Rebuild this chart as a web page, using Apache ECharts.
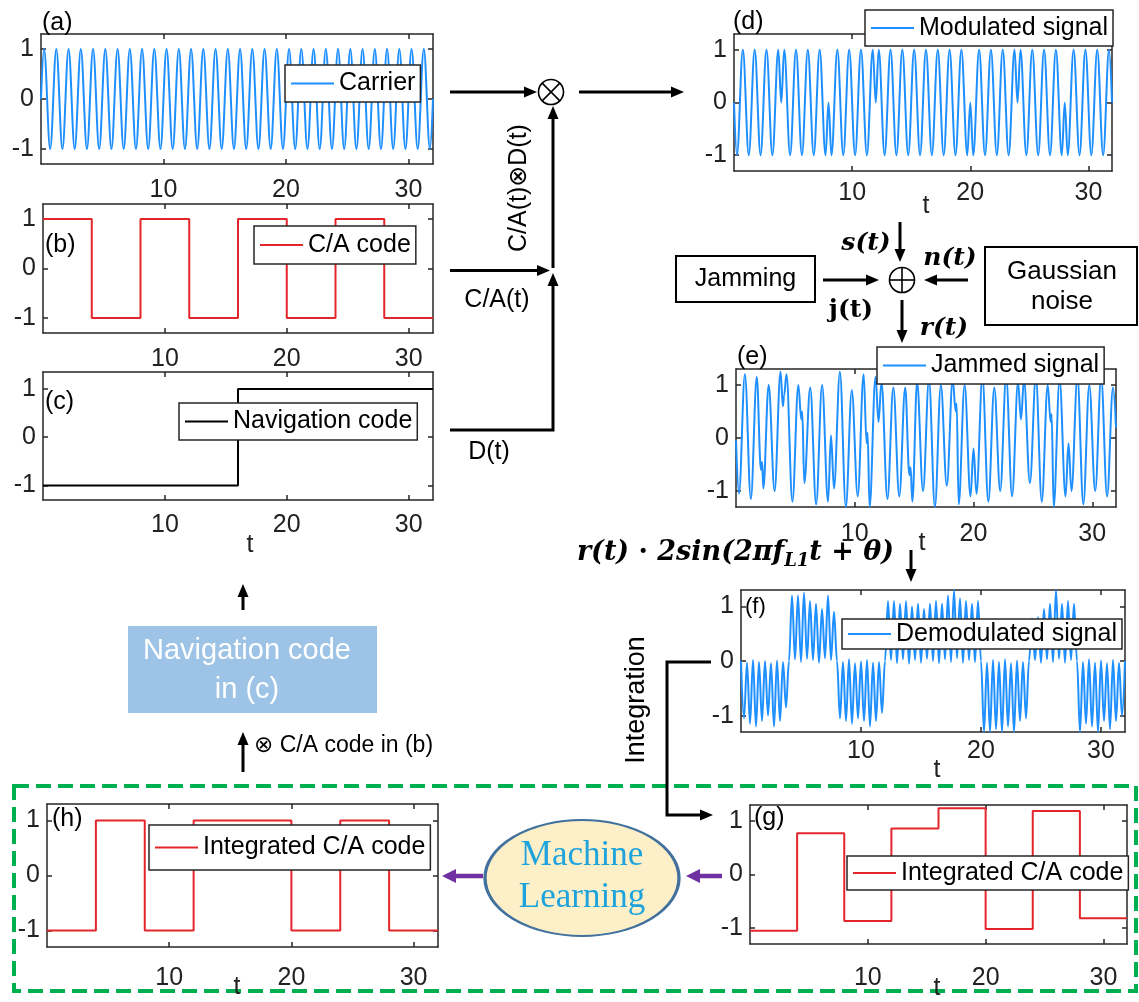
<!DOCTYPE html>
<html><head><meta charset="utf-8">
<script src="https://cdn.jsdelivr.net/npm/echarts@6/dist/echarts.min.js"></script>
<style>html,body{margin:0;padding:0;background:#fff}#c{width:1139px;height:1002px}</style>
</head><body><div id="c"></div>
<script>
// ---------------- data ----------------
const xTicks = [10, 20, 30];
const yTicks = [-1, 0, 1];

// (a) carrier: extrema (peaks / troughs) and end points
const carrierT = [0,0.25,0.75,1.25,1.75,2.25,2.75,3.25,3.75,4.25,4.75,5.25,5.75,6.25,6.75,7.25,7.75,8.25,8.75,9.25,9.75,10.25,10.75,11.25,11.75,12.25,12.75,13.25,13.75,14.25,14.75,15.25,15.75,16.25,16.75,17.25,17.75,18.25,18.75,19.25,19.75,20.25,20.75,21.25,21.75,22.25,22.75,23.25,23.75,24.25,24.75,25.25,25.75,26.25,26.75,27.25,27.75,28.25,28.75,29.25,29.75,30.25,30.75,31.25,31.75,32];
const carrierV = [0,1,-1,1,-1,1,-1,1,-1,1,-1,1,-1,1,-1,1,-1,1,-1,1,-1,1,-1,1,-1,1,-1,1,-1,1,-1,1,-1,1,-1,1,-1,1,-1,1,-1,1,-1,1,-1,1,-1,1,-1,1,-1,1,-1,1,-1,1,-1,1,-1,1,-1,1,-1,1,-1,0];

// (b) C/A code, (c) navigation code (step starts)
const caT = [0,4,8,12,16,20,24,28,32];
const caV = [1,-1,1,-1,1,-1,1,-1,-1];
const navT = [0,16,32];
const navV = [-1,1,1];

// (d) modulated signal: extrema + phase-flip points
const modPairs = [[0,0],[0.25,-1],[0.75,1],[1.25,-1],[1.75,1],[2.25,-1],[2.75,1],[3.25,-1],[3.75,1],[4,0],
[4.25,1],[4.75,-1],[5.25,1],[5.75,-1],[6.25,1],[6.75,-1],[7.25,1],[7.75,-1],[8,0],
[8.25,-1],[8.75,1],[9.25,-1],[9.75,1],[10.25,-1],[10.75,1],[11.25,-1],[11.75,1],[12,0],
[12.25,1],[12.75,-1],[13.25,1],[13.75,-1],[14.25,1],[14.75,-1],[15.25,1],[15.75,-1],[16.25,1],[16.75,-1],[17.25,1],[17.75,-1],[18.25,1],[18.75,-1],[19.25,1],[19.75,-1],[20,0],
[20.25,-1],[20.75,1],[21.25,-1],[21.75,1],[22.25,-1],[22.75,1],[23.25,-1],[23.75,1],[24,0],
[24.25,1],[24.75,-1],[25.25,1],[25.75,-1],[26.25,1],[26.75,-1],[27.25,1],[27.75,-1],[28,0],
[28.25,-1],[28.75,1],[29.25,-1],[29.75,1],[30.25,-1],[30.75,1],[31.25,-1],[31.75,1],[32,0]];

// (e) jammed signal (estimated extrema)
const jamPairs = [[0,-0.05],[0.25,-1.05],[0.75,1.2],[1.25,-1.15],[1.75,1.15],[2.1,-0.6],[2.2,-0.45],[2.3,-0.95],[2.75,1.0],[3.25,-1.0],[3.75,1.25],[3.95,0.6],[4.05,0.8],[4.25,1.2],[4.75,-1.2],[5.25,1.0],[5.5,0.35],[5.58,0.5],[5.75,-0.85],[6.25,0.95],[6.75,-1.25],[7.25,1.0],[7.75,-1.2],[8.0,0.05],[8.25,-0.95],[8.75,1.25],[9.25,-1.3],[9.75,0.9],[10.25,-1.1],[10.75,1.2],[11.0,-0.1],[11.08,0.1],[11.25,-1.3],[11.75,1.15],[12.0,0.3],[12.25,1.05],[12.75,-1.15],[13.25,0.95],[13.75,-1.1],[14.25,0.95],[14.6,-0.7],[14.7,-0.55],[14.85,-1.2],[15.25,1.05],[15.75,-1.0],[16.25,1.1],[16.75,-1.3],[17.25,1.0],[17.75,-0.9],[18.25,1.1],[18.5,0.5],[18.58,0.65],[18.75,-1.25],[19.25,1.0],[19.75,-1.1],[20.0,-0.2],[20.25,-1.05],[20.75,1.15],[21.25,-1.2],[21.75,0.95],[22.25,-1.0],[22.75,1.15],[23.25,-1.1],[23.75,1.05],[24.0,0.35],[24.25,1.1],[24.75,-0.85],[25.25,1.15],[25.75,-1.2],[26.25,1.0],[26.5,0.3],[26.58,0.45],[26.75,-1.3],[27.25,1.1],[27.75,-1.1],[28.0,-0.1],[28.25,-1.0],[28.75,1.15],[29.25,-1.25],[29.75,1.0],[30.25,-1.0],[30.75,1.15],[31.25,-1.1],[31.75,0.95],[32,0.2]];

// (f) demodulated signal: base values at t = 0,0.5,... and peaks at t = 0.25,0.75,...
const demodStep = 0.25;
const demodBase = [0,-0.03,0.02,-0.02,0,-0.04,0.01,-0.02,
 0,0.03,-0.02,0.04,0.02,-0.03,0.05,0.02,
 0,-0.02,0.03,-0.04,-0.01,0.02,-0.03,-0.02,
 0,0.02,-0.04,0.03,-0.05,0.02,-0.03,0.04,0,-0.04,0.03,-0.02,0.05,-0.03,0.02,-0.02,
 0,-0.03,0.02,-0.02,0.03,-0.04,0.01,-0.02,
 0,0.02,-0.03,0.03,-0.02,0.04,-0.03,0.02,
 0,-0.02,0.03,-0.03,0.01,-0.04,0.02,-0.03,
 0];
const demodPeak = [-1.05,-1.15,-1.2,-1.1,-1.0,-1.2,-1.1,-0.85,
 1.2,1.2,1.25,1.1,1.05,0.95,1.2,0.9,
 -1.05,-1.1,-1.15,-1.05,-1.1,-1.2,-1.1,-0.95,
 1.1,1.1,1.05,1.1,1.0,1.05,0.95,1.05,1.1,1.05,1.2,1.3,1.15,1.1,1.05,1.1,
 -1.3,-1.3,-1.25,-1.3,-1.2,-1.3,-1.1,-1.05,
 0.78,0.8,0.95,1.05,1.3,1.05,1.1,1.05,
 -1.3,-1.15,-1.2,-1.3,-1.1,-1.25,-1.1,-1.0];

// (g) integrated C/A code (before ML), (h) after ML
const intGT = [0,4,8,12,16,20,24,28,32];
const intGV = [-1.05,0.77,-0.87,0.86,1.24,-1.02,1.19,-0.82,-0.82];
const intHT = [0,4,8,12,20,24,28,32];
const intHV = [-1,1,-1,1,-1,1,-1,-1];

// ---------------- styling / layout ----------------
const FONT = 'Liberation Sans, Arial, Helvetica, sans-serif';
const SERIF = 'DejaVu Serif, Liberation Serif, serif';
const BLUE = '#1e8fff', RED = '#e3262c', AXIS = '#262626';

function zip(t, v) { return t.map((x, i) => [x, v[i]]); }
function demodData() {
  const out = [];
  for (let i = 0; i < demodPeak.length; i++) {
    out.push([2 * i * demodStep, demodBase[i]]);
    out.push([(2 * i + 1) * demodStep, demodPeak[i]]);
  }
  out.push([2 * demodPeak.length * demodStep, demodBase[demodPeak.length]]);
  return out;
}

const panels = [
  {g:{left:41,top:34,width:392,height:130}, ymin:-1.3, ymax:1.3, xm:14, data:zip(carrierT,carrierV), color:BLUE, smooth:0.36, name:'Carrier', lg:{left:285,top:65,h:37}},
  {g:{left:43,top:204,width:390,height:129}, ymin:-1.3, ymax:1.3, xm:14, data:zip(caT,caV), color:RED, step:'end', name:'C/A code', lg:{left:254,top:226,h:38}},
  {g:{left:43,top:372,width:390,height:128}, ymin:-1.3, ymax:1.35, xm:13, data:zip(navT,navV), color:'#000', step:'end', name:'Navigation code', lg:{left:179,top:403,h:37}},
  {g:{left:734,top:34,width:378,height:137}, ymin:-1.3, ymax:1.3, xm:10, data:modPairs, color:BLUE, smooth:0.36, name:'Modulated signal', lg:{left:865,top:10,h:36}},
  {g:{left:736,top:369,width:380,height:138}, ymin:-1.3, ymax:1.3, xm:15, data:jamPairs, color:BLUE, smooth:0.36, name:'Jammed signal', lg:{left:877,top:347,h:37}},
  {g:{left:741,top:590,width:384,height:142}, ymin:-1.3, ymax:1.3, xm:7, data:demodData(), color:BLUE, smooth:0.36, name:'Demodulated signal', lg:{left:842,top:619,h:30}},
  {g:{left:750,top:805,width:377,height:139}, ymin:-1.3, ymax:1.3, xm:22, data:zip(intGT,intGV), color:RED, step:'end', name:'Integrated C/A code', lg:{left:847,top:856,h:34}},
  {g:{left:47,top:804,width:391,height:143}, ymin:-1.3, ymax:1.3, xm:19, data:zip(intHT,intHV), color:RED, step:'end', name:'Integrated C/A code', lg:{left:149,top:825,h:45}}
];

const grid = [], xAxis = [], yAxis = [], series = [], legend = [];
const lineAx = {show:true, onZero:false, lineStyle:{color:AXIS, width:1.5}};
const tickSty = {color:AXIS, width:1.5};
panels.forEach((p, i) => {
  grid.push(Object.assign({show:false, containLabel:false}, p.g));
  const labelSty = {fontSize:25, color:'#222', fontFamily:FONT};
  xAxis.push({gridIndex:i, type:'value', min:0, max:32, position:'bottom', axisLine:lineAx,
    axisTick:{show:true, inside:true, length:5, customValues:xTicks, lineStyle:tickSty},
    axisLabel:Object.assign({show:true, customValues:xTicks, margin:p.xm}, labelSty), splitLine:{show:false}});
  xAxis.push({gridIndex:i, type:'value', min:0, max:32, position:'top', axisLine:lineAx,
    axisTick:{show:true, inside:true, length:5, customValues:xTicks, lineStyle:tickSty},
    axisLabel:{show:false}, splitLine:{show:false}});
  yAxis.push({gridIndex:i, type:'value', min:p.ymin, max:p.ymax, position:'left', axisLine:lineAx,
    axisTick:{show:true, inside:true, length:5, customValues:yTicks, lineStyle:tickSty},
    axisLabel:Object.assign({show:true, customValues:yTicks, margin:7}, labelSty), splitLine:{show:false}});
  yAxis.push({gridIndex:i, type:'value', min:p.ymin, max:p.ymax, position:'right', axisLine:lineAx,
    axisTick:{show:true, inside:true, length:5, customValues:yTicks, lineStyle:tickSty},
    axisLabel:{show:false}, splitLine:{show:false}});
  const s = {type:'line', name:p.name, xAxisIndex:2*i, yAxisIndex:2*i, data:p.data, symbol:'none', showSymbol:false,
    lineStyle:{color:p.color, width:2}, itemStyle:{color:p.color}, clip:true, silent:true, z:2};
  if (p.step) s.step = p.step;
  if (p.smooth) { s.smooth = p.smooth; s.smoothMonotone = 'x'; }
  series.push(s);
  const pad = (p.lg.h - 25) / 2;
  legend.push({show:true, data:[p.name], left:p.lg.left, top:p.lg.top, orient:'horizontal', selectedMode:false,
    padding:[pad, 5, pad, 5], itemWidth:43, itemHeight:2, itemGap:0, backgroundColor:'#fff',
    borderColor:AXIS, borderWidth:1.5, borderRadius:0, itemStyle:{opacity:0},
    textStyle:{fontSize:25, fontFamily:FONT, color:'#000'}});
});

// ---------------- diagram graphics ----------------
const G = [];
function txt(x, y, text, o) {
  o = o || {};
  G.push({type:'text', x:x, y:y, rotation:o.rot || 0, silent:true, z:100,
    style:{text:text, fill:o.color || '#000', fontSize:o.size || 25, fontFamily:o.family || FONT,
      fontWeight:o.weight || 'normal', fontStyle:o.style || 'normal',
      textAlign:o.align || 'center', textVerticalAlign:'middle', align:o.align || 'center', verticalAlign:'middle'}});
}
function arrow(pts, o) {
  o = o || {};
  const color = o.color || '#000', lw = o.lw || 3, hl = o.hl || 13, hw = o.hw || 5.5;
  const n = pts.length, a = pts[n - 2], b = pts[n - 1];
  const dx = b[0] - a[0], dy = b[1] - a[1], L = Math.hypot(dx, dy), ux = dx / L, uy = dy / L;
  const lp = pts.slice(0, n - 1).concat([[b[0] - ux * hl * 0.8, b[1] - uy * hl * 0.8]]);
  const bx = b[0] - ux * hl, by = b[1] - uy * hl;
  G.push({type:'polyline', silent:true, z:50, shape:{points:lp}, style:{stroke:color, lineWidth:lw, fill:null}});
  G.push({type:'polygon', silent:true, z:50, shape:{points:[[b[0], b[1]], [bx - uy * hw, by + ux * hw], [bx + uy * hw, by - ux * hw]]}, style:{fill:color}});
}
function circOp(cx, cy, r, times) {
  G.push({type:'circle', silent:true, z:50, shape:{cx:cx, cy:cy, r:r}, style:{stroke:'#000', lineWidth:1.6, fill:'#fff'}});
  const d = times ? r * 0.707 : r;
  if (times) {
    G.push({type:'line', silent:true, z:51, shape:{x1:cx - d, y1:cy - d, x2:cx + d, y2:cy + d}, style:{stroke:'#000', lineWidth:1.6}});
    G.push({type:'line', silent:true, z:51, shape:{x1:cx - d, y1:cy + d, x2:cx + d, y2:cy - d}, style:{stroke:'#000', lineWidth:1.6}});
  } else {
    G.push({type:'line', silent:true, z:51, shape:{x1:cx - d, y1:cy, x2:cx + d, y2:cy}, style:{stroke:'#000', lineWidth:1.6}});
    G.push({type:'line', silent:true, z:51, shape:{x1:cx, y1:cy - d, x2:cx, y2:cy + d}, style:{stroke:'#000', lineWidth:1.6}});
  }
}
function box(x, y, w, h, o) {
  o = o || {};
  G.push({type:'rect', silent:true, z:o.z || 40, shape:{x:x, y:y, width:w, height:h},
    style:{fill:o.fill || null, stroke:o.stroke || null, lineWidth:o.lw || 2, lineDash:o.dash || null}});
}

// panel letters
txt(42, 23, '(a)', {align:'left'});
txt(45, 245, '(b)', {align:'left'});
txt(45, 402, '(c)', {align:'left'});
txt(733, 22, '(d)', {align:'left'});
txt(737, 357, '(e)', {align:'left'});
txt(745, 607, '(f)', {align:'left', size:22});
txt(754, 818, '(g)', {align:'left'});
txt(52, 819, '(h)', {align:'left'});
// axis "t" labels
txt(250, 545, 't', {color:'#222'});
txt(926, 206, 't', {color:'#222'});
txt(922, 543, 't', {color:'#222'});
txt(937, 770, 't', {color:'#222'});
txt(937, 988, 't', {color:'#222'});
txt(237, 987, 't', {color:'#222'});

// modulation part
arrow([[450, 92], [537, 92]]);
circOp(551, 92, 12.5, true);
arrow([[579, 92], [684, 92]]);
arrow([[450, 270.5], [550, 270.5]]);
arrow([[450, 430], [553, 430], [553, 273]]);
arrow([[553, 268], [553, 106]]);
txt(519, 188, 'C/A(t)⊗D(t)', {rot:Math.PI / 2, family:'Liberation Sans, DejaVu Sans, sans-serif', size:25});
txt(497, 300, 'C/A(t)', {size:25});
txt(489, 452, 'D(t)', {size:25});

// channel part
box(676, 256, 139, 46, {stroke:'#000', lw:2, fill:'#fff'});
txt(745.5, 279, 'Jamming', {size:25});
box(985, 247, 152, 78, {stroke:'#000', lw:2, fill:'#fff'});
txt(1062, 272, 'Gaussian', {size:26});
txt(1062, 302, 'noise', {size:26});
arrow([[900, 222], [900, 262]]);
circOp(902, 280, 12.5, false);
arrow([[823, 280], [879, 280]]);
arrow([[968, 280], [924, 280]]);
arrow([[902, 300], [902, 343]]);
txt(866, 243, 's(t)', {family:SERIF, weight:'bold', style:'italic', size:25});
txt(950, 258, 'n(t)', {family:SERIF, weight:'bold', style:'italic', size:25});
txt(851, 310, 'j(t)', {family:SERIF, weight:'bold', size:25});
txt(944, 328, 'r(t)', {family:SERIF, weight:'bold', style:'italic', size:25});

// demodulation formula
G.push({type:'text', x:894, y:553, silent:true, z:100, style:{
  text:'{b|r(t)}{n| · }{b|2sin(2πf}{s|L1}{b|t}{n| + }{b|θ)}',
  textAlign:'right', align:'right', textVerticalAlign:'middle', verticalAlign:'middle',
  rich:{
    b:{fontFamily:SERIF, fontWeight:'bold', fontStyle:'italic', fontSize:27, lineHeight:34, fill:'#000'},
    n:{fontFamily:SERIF, fontWeight:'bold', fontSize:27, lineHeight:34, fill:'#000'},
    s:{fontFamily:SERIF, fontWeight:'bold', fontStyle:'italic', fontSize:18, lineHeight:34, verticalAlign:'bottom', fill:'#000'}
  }}});
arrow([[911, 550], [911, 582]]);

// integration path
arrow([[711, 662], [667, 662], [667, 815], [713, 815]]);
txt(637, 700, 'Integration', {rot:Math.PI / 2, size:27});

// navigation recovery part
arrow([[243, 610], [243, 584]]);
box(128, 626, 249, 87, {fill:'#9dc3e6', z:30});
txt(247, 651, 'Navigation code', {color:'#fff', size:29});
txt(247, 690, 'in (c)', {color:'#fff', size:29});
arrow([[243, 772], [243, 732]]);
txt(254, 746, '⊗ C/A code in (b)', {align:'left', size:23, family:'Liberation Sans, DejaVu Sans, sans-serif'});

// green dashed frame
box(14, 786, 1122, 205, {stroke:'#00b050', lw:4, dash:[15, 7], z:20});

// machine learning ellipse
G.push({type:'circle', silent:true, z:45, x:582, y:878, scaleX:97 / 58, shape:{cx:0, cy:0, r:58},
  style:{fill:'#fdf0c8', stroke:'#41719c', lineWidth:2, strokeNoScale:true}});
txt(582, 856, 'Machine', {family:'Liberation Serif, Times New Roman, serif', size:35, color:'#1fa3dc'});
txt(582, 898, 'Learning', {family:'Liberation Serif, Times New Roman, serif', size:35, color:'#1fa3dc'});
arrow([[483, 876], [442, 876]], {color:'#7030a0', lw:4.5, hl:14, hw:7});
arrow([[722, 876], [686, 876]], {color:'#7030a0', lw:4.5, hl:14, hw:7});

const chart = echarts.init(document.getElementById('c'), null, {renderer:'canvas', width:1139, height:1002});
chart.setOption({
  backgroundColor:'#fff',
  animation:false,
  grid:grid, xAxis:xAxis, yAxis:yAxis, series:series, legend:legend,
  graphic:{elements:G}
});
</script>
</body></html>
